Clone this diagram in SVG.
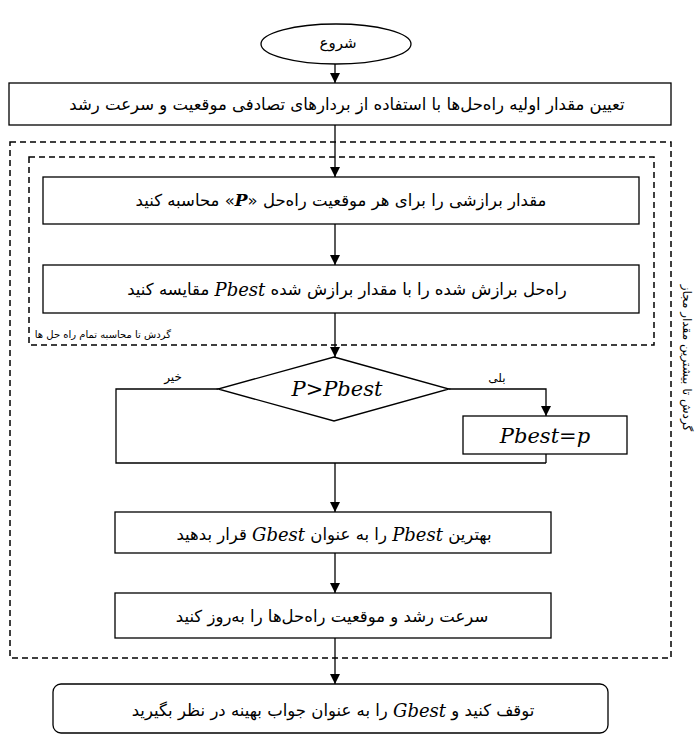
<svg xmlns="http://www.w3.org/2000/svg" width="697" height="735" viewBox="0 0 697 735">
<style>
.box{fill:#fff;stroke:#000;stroke-width:1.3}
.dash{fill:none;stroke:#000;stroke-width:1.5;stroke-dasharray:6 4}
.ln{fill:none;stroke:#000;stroke-width:1.3}
.fa{font-family:"DejaVu Sans",sans-serif;font-size:16.5px;fill:#000;direction:rtl;text-anchor:middle;dominant-baseline:central}
.sm{font-size:12px}
.it{font-family:"DejaVu Serif","Liberation Serif",serif;font-style:italic}
.big{font-family:"DejaVu Serif","Liberation Serif",serif;font-style:italic;font-size:21px;text-anchor:middle;dominant-baseline:central;fill:#000}
</style>
<defs>
<marker id="ah" markerWidth="10" markerHeight="12" refX="10" refY="5" orient="auto" markerUnits="userSpaceOnUse" viewBox="0 0 10 10">
<path d="M0,0 L10,5 L0,10 Z" fill="#000"/>
</marker>
</defs>
<rect width="697" height="735" fill="#fff"/>
<g id="loop-outer">
<rect class="dash" x="10" y="142" width="661" height="516"/>
<text class="fa sm" transform="translate(687,358) rotate(90)">گردش تا بیشترین مقدار مجاز</text>
</g>
<g id="loop-inner">
<rect class="dash" x="29" y="157" width="625" height="188"/>
<text class="fa sm" x="171" y="334" style="text-anchor:start;font-size:10px">گردش تا محاسبه تمام راه حل ها</text>
</g>
<g id="connectors">
<line class="ln" x1="335" y1="64" x2="335" y2="83" marker-end="url(#ah)"/>
<line class="ln" x1="335" y1="125" x2="335" y2="177" marker-end="url(#ah)"/>
<line class="ln" x1="335" y1="224" x2="335" y2="265" marker-end="url(#ah)"/>
<line class="ln" x1="335" y1="313" x2="335" y2="357" marker-end="url(#ah)"/>
<polyline class="ln" points="218,389 116,389 116,463 546,463"/>
<polyline class="ln" points="449,389 546,389 546,416" marker-end="url(#ah)"/>
<line class="ln" x1="546" y1="454" x2="546" y2="463"/>
<line class="ln" x1="335" y1="463" x2="335" y2="512" marker-end="url(#ah)"/>
<line class="ln" x1="335" y1="553" x2="335" y2="593" marker-end="url(#ah)"/>
<line class="ln" x1="335" y1="638" x2="335" y2="684" marker-end="url(#ah)"/>
<text class="fa sm" x="173" y="377">خیر</text>
<text class="fa sm" x="497" y="378">بلی</text>
</g>
<g id="start">
<ellipse class="box" cx="336" cy="44" rx="75" ry="20"/>
<text class="fa" x="338" y="43" style="font-size:15px">شروع</text>
</g>
<g id="init">
<rect class="box" x="9" y="83" width="662" height="42"/>
<text class="fa" x="347" y="104">تعیین مقدار اولیه راه‌حل‌ها با استفاده از بردارهای تصادفی موقعیت و سرعت رشد</text>
</g>
<g id="fitness">
<rect class="box" x="43" y="177" width="596" height="47"/>
<text class="fa" x="341" y="200">مقدار برازشی را برای هر موقعیت راه‌حل «<tspan class="it" font-weight="bold" font-size="17">P</tspan>» محاسبه کنید</text>
</g>
<g id="compare">
<rect class="box" x="43" y="265" width="596" height="48"/>
<text class="fa" x="347" y="289">راه‌حل برازش شده را با مقدار برازش شده <tspan class="it" font-size="18">Pbest</tspan> مقایسه کنید</text>
</g>
<g id="decision">
<polygon class="box" points="334,357 449,389 334,421 218,389"/>
<text class="big" x="337" y="389">P&gt;Pbest</text>
</g>
<g id="update-pbest">
<rect class="box" x="463" y="416" width="164" height="38"/>
<text class="big" x="545" y="436" font-size="18.5">Pbest=p</text>
</g>
<g id="gbest">
<rect class="box" x="115" y="512" width="436" height="41"/>
<text class="fa" x="334" y="534">بهترین <tspan class="it" font-size="18">Pbest</tspan> را به عنوان <tspan class="it" font-size="18">Gbest</tspan> قرار بدهید</text>
</g>
<g id="update">
<rect class="box" x="115" y="593" width="436" height="45"/>
<text class="fa" x="332" y="616">سرعت رشد و موقعیت راه‌حل‌ها را به‌روز کنید</text>
</g>
<g id="stop">
<rect class="box" x="53" y="684" width="555" height="49" rx="8"/>
<text class="fa" x="333" y="710">توقف کنید و <tspan class="it" font-size="18">Gbest</tspan> را به عنوان جواب بهینه در نظر بگیرید</text>
</g>
</svg>
